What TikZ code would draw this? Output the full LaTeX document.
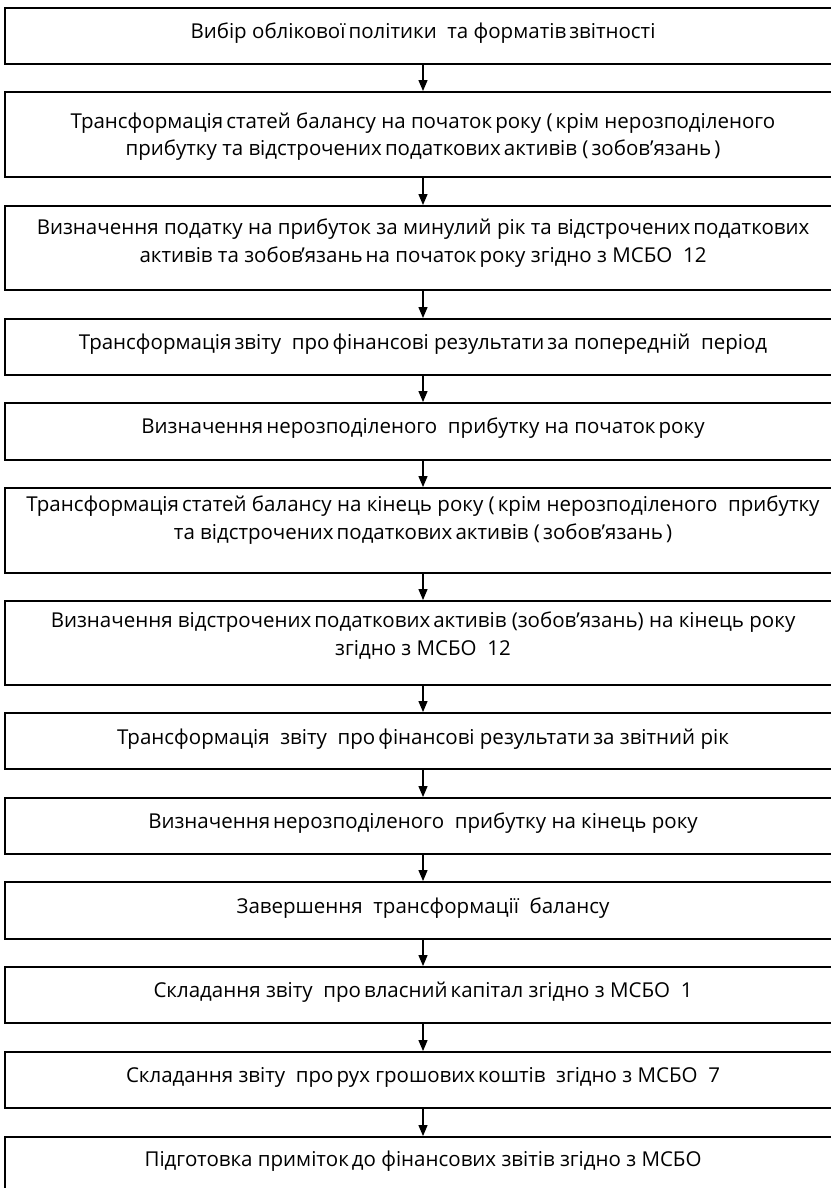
\documentclass[tikz,border=0pt]{standalone}
\usepackage{fontspec}
\setmainfont{Open Sans}
\usetikzlibrary{arrows.meta}
% tight inter-word gap used by the typesetting of the chart
\newcommand\nsp{\hspace{0.15em}}
\begin{document}
\begin{tikzpicture}[x=1bp,y=-1bp,
  stepbox/.style={draw=black, line width=1.9bp, rectangle, inner sep=0pt,
    minimum width=836bp},
  onebox/.style={stepbox, minimum height=56bp},
  twobox/.style={stepbox, minimum height=85bp},
  lbl/.style={anchor=base, inner sep=0pt, font=\fontsize{20.5bp}{24bp}\selectfont, text=black},
  arr/.style={line width=1.3bp, -{Triangle[length=11bp,width=9bp]}}]
\useasboundingbox (0,0) rectangle (831,1188);
\fill[white] (0,0) rectangle (831,1188);
\clip (0,0) rectangle (831,1188);

% boxes of the procedure, top to bottom
\node[stepbox, minimum height=56bp] (b1) at (423,36) {};
\node[twobox] (b2) at (423,134.5) {};
\node[twobox, minimum height=84bp] (b3) at (423,248) {};
\node[onebox] (b4) at (423,347) {};
\node[onebox, minimum height=57bp] (b5) at (423,431.5) {};
\node[twobox] (b6) at (423,530.5) {};
\node[twobox, minimum height=84bp] (b7) at (423,643) {};
\node[onebox] (b8) at (423,741) {};
\node[onebox] (b9) at (423,826) {};
\node[onebox, minimum height=57bp] (b10) at (423,910.5) {};
\node[onebox] (b11) at (423,995) {};
\node[onebox] (b12) at (423,1080) {};
\node[onebox] (b13) at (423,1165) {};

% labels
\node[lbl] (t1) at (423,38) {Вибір\ облікової\nsp політики\ \ та форматів\nsp звітності};
\node[lbl] (t2a) at (423,128) {Трансформація\nsp статей балансу на початок\nsp року (\nsp крім нерозподіленого};
\node[lbl] (t2b) at (423,155) {прибутку та відстрочених\nsp податкових\nsp активів (\nsp зобов’язань\nsp)};
\node[lbl] (t3a) at (423,234) {Визначення податку на прибуток за минулий рік та відстрочених\nsp податкових};
\node[lbl] (t3b) at (423,262) {активів та зобов\kern-1.5pt’язань\nsp на початок\nsp року згідно з МСБО\ \ 12};
\node[lbl] (t4) at (423,349) {Трансформація\nsp звіту\ \ про\nsp фінансові результати\nsp за попередній\ \ період};
\node[lbl] (t5) at (423,433) {Визначення\nsp нерозподіленого\ \ прибутку на початок\nsp року};
\node[lbl] (t6a) at (423,511) {Трансформація\nsp статей балансу на кінець року (\nsp крім нерозподіленого\ \ прибутку};
\node[lbl] (t6b) at (423,539) {та відстрочених\nsp податкових\nsp активів (\nsp зобов’язань\nsp)};
\node[lbl] (t7a) at (423,627) {Визначення відстрочених\nsp податкових\nsp активів (зобов’язань) на кінець року};
\node[lbl] (t7b) at (423,655) {згідно з МСБО\ \ 12};
\node[lbl] (t8) at (423,744) {Трансформація\ \ звіту\ \ про\nsp фінансові результати\nsp за звітний рік};
\node[lbl] (t9) at (423,828) {Визначення\nsp нерозподіленого\ \ прибутку на кінець року};
\node[lbl] (t10) at (423,913) {Завершення\ \ трансформації\ \ балансу};
\node[lbl] (t11) at (423,997) {Складання звіту\ \ про\nsp власний\nsp капітал згідно з МСБО\ \ 1};
\node[lbl] (t12) at (423,1082) {Складання звіту\ \ про\nsp рух грошових\nsp коштів\ \ згідно з МСБО\ \ 7};
\node[lbl] (t13) at (423,1166) {Підготовка приміток\nsp до фінансових звітів згідно з МСБО};

% connectors between consecutive steps
\foreach \a/\b in {b1/b2,b2/b3,b3/b4,b4/b5,b5/b6,b6/b7,b7/b8,b8/b9,b9/b10,b10/b11,b11/b12,b12/b13}
  \draw[arr] (\a.south) -- (\b.north);
\end{tikzpicture}
\end{document}
